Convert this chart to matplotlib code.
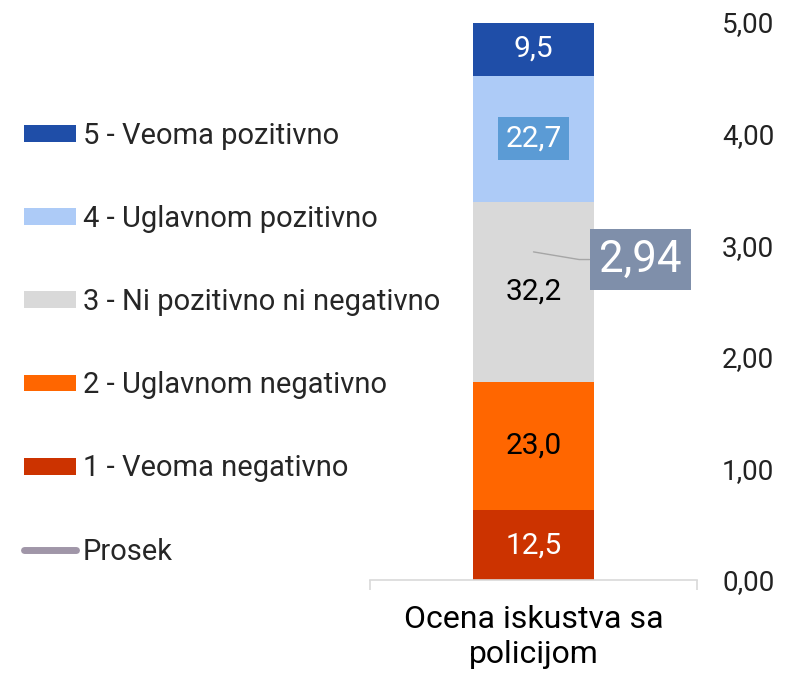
import matplotlib
matplotlib.use("Agg")
import matplotlib.pyplot as plt
from matplotlib.patches import Patch
from matplotlib.lines import Line2D

plt.rcParams['font.family'] = ['Roboto', 'DejaVu Sans']

category = ["Ocena iskustva sa\npolicijom"]
series_labels = ["1 - Veoma negativno", "2 - Uglavnom negativno",
                 "3 - Ni pozitivno ni negativno", "4 - Uglavnom pozitivno",
                 "5 - Veoma pozitivno"]
values = [12.5, 23.0, 32.2, 22.7, 9.5]
average = [2.94]
colors = ["#CC3300", "#FF6600", "#D9D9D9", "#ADCBF7", "#1F4EA8"]
label_colors = ["white", "black", "black", "white", "white"]

fig = plt.figure(figsize=(7.94, 6.79), dpi=100)
W, H = 794, 679
ax = fig.add_axes([370 / W, (H - 580) / H, (697 - 370) / W, (580 - 22) / H])

x = [0]
bottom = 0
for v, c, lab, lc in zip(values, colors, series_labels, label_colors):
    ax.bar(x, [v], bottom=[bottom], width=0.367, color=c, label=lab)
    txt = f"{v:.1f}".replace(".", ",")
    if lab.startswith("4"):
        ax.text(0, bottom + v / 2, txt, ha="center", va="center", fontsize=21.5,
                color=lc, bbox=dict(boxstyle="square,pad=0.25", fc="#5B9BD5", ec="none"))
    else:
        ax.text(0, bottom + v / 2, txt, ha="center", va="center", fontsize=21.5, color=lc)
    bottom += v

ax.set_xlim(-0.5, 0.5)
ax.set_ylim(0, 100)
ax.set_yticks([])
for s in ["top", "right", "left"]:
    ax.spines[s].set_visible(False)
ax.spines["bottom"].set_color("#D9D9D9")
ax.spines["bottom"].set_linewidth(1.2)
ax.set_xticks([-0.5, 0.5], minor=True)
ax.tick_params(axis="x", which="minor", length=7, color="#D9D9D9", width=1.2)
ax.set_xticks(x)
ax.set_xticklabels(category, fontsize=23, color="black", linespacing=1.25)
ax.tick_params(axis="x", which="major", length=0, pad=18)

ax2 = ax.twinx()
ax2.set_ylim(0, 5)
ax2.set_yticks([0, 1, 2, 3, 4, 5])
ax2.set_yticklabels([f"{t:.2f}".replace(".", ",") for t in [0, 1, 2, 3, 4, 5]],
                    fontsize=20, color="#222222")
ax2.tick_params(axis="y", length=0, pad=18)
for s in ["top", "right", "left", "bottom"]:
    ax2.spines[s].set_visible(False)
avg_color = "#A096A8"
ax2.plot(x, average, color=avg_color, lw=5, solid_capstyle="round", label="Prosek")
ax2.annotate(f"{average[0]:.2f}".replace(".", ","), xy=(0, average[0]),
             xytext=(77, -5.5), textcoords="offset points", ha="center", va="center",
             fontsize=31.5, color="white",
             bbox=dict(boxstyle="square,pad=0.22", fc="#7F8FAA", ec="none"),
             arrowprops=dict(arrowstyle="-", color="#A6A6A6", lw=1.0,
                             shrinkA=0, shrinkB=0,
                             connectionstyle="angle,angleA=180,angleB=-9.5,rad=0"))

handles = [Patch(facecolor=c, edgecolor="none") for c in colors][::-1]
labels = series_labels[::-1]
handles.append(Line2D([0], [0], color=avg_color, lw=5, solid_capstyle="round"))
labels.append("Prosek")
leg = fig.legend(handles, labels, loc="upper left", bbox_to_anchor=(24 / W, 1 - 122 / H),
                 frameon=False, fontsize=21, handlelength=1.78, handleheight=0.51,
                 handletextpad=0.24, labelspacing=1.89, borderaxespad=0, borderpad=0)
for t in leg.get_texts():
    t.set_color("#262626")

fig.savefig("out.png", dpi=100)
